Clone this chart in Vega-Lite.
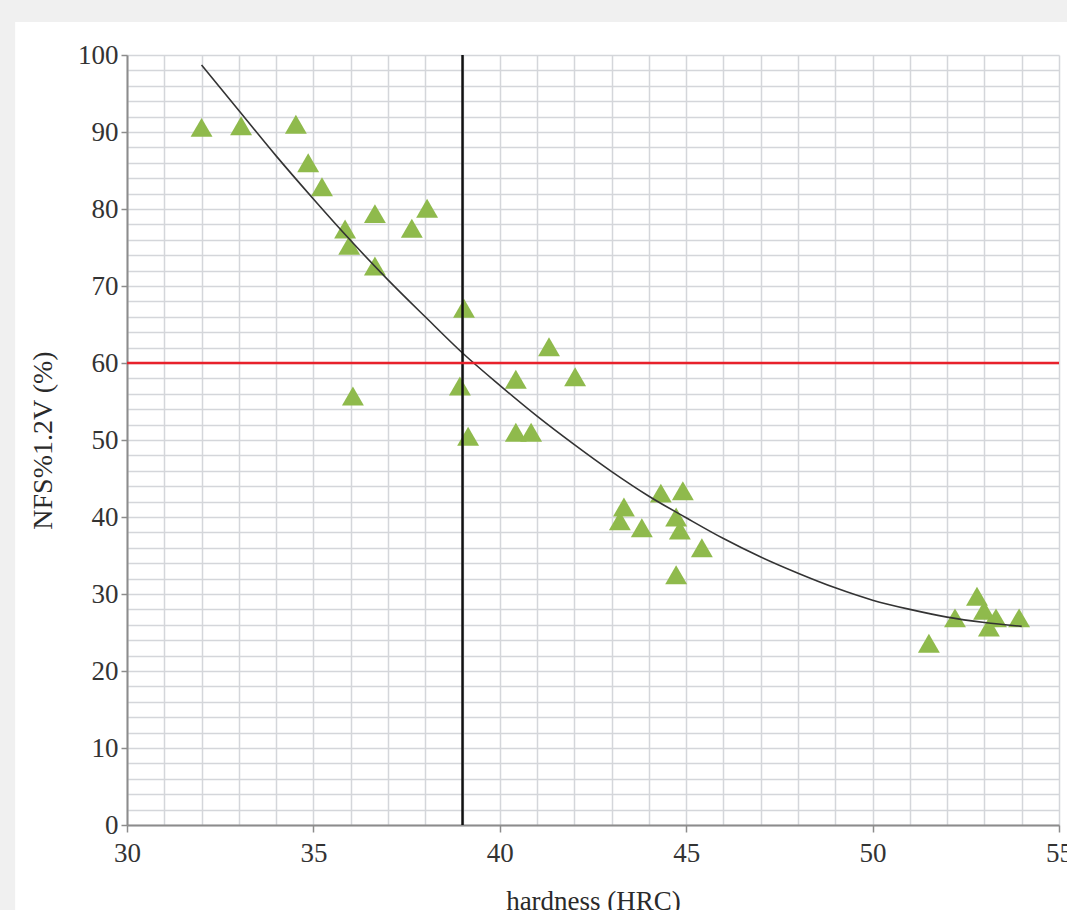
{
  "$schema": "https://vega.github.io/schema/vega-lite/v6.json",
  "autosize": {"type": "none"},
  "width": 932,
  "height": 770,
  "padding": {"left": 127, "top": 55, "right": 8, "bottom": 85},
  "background": "white",
  "config": {
    "view": {"stroke": null},
    "font": "Liberation Serif"
  },
  "datasets": {
    "pts": [
      {"h": 32.0, "n": 90.6}, {"h": 33.06, "n": 90.8}, {"h": 34.53, "n": 91.0},
      {"h": 34.86, "n": 86.0}, {"h": 35.23, "n": 82.9}, {"h": 36.65, "n": 79.4},
      {"h": 38.05, "n": 80.1}, {"h": 35.85, "n": 77.4}, {"h": 35.96, "n": 75.3},
      {"h": 36.65, "n": 72.6}, {"h": 37.64, "n": 77.5}, {"h": 36.06, "n": 55.7},
      {"h": 39.04, "n": 67.1}, {"h": 38.93, "n": 57.0}, {"h": 39.15, "n": 50.5},
      {"h": 40.43, "n": 57.9}, {"h": 40.43, "n": 51.0}, {"h": 40.84, "n": 51.0},
      {"h": 41.32, "n": 62.1}, {"h": 42.02, "n": 58.2}, {"h": 43.22, "n": 39.5},
      {"h": 43.33, "n": 41.3}, {"h": 43.81, "n": 38.6}, {"h": 44.32, "n": 43.1},
      {"h": 44.91, "n": 43.4}, {"h": 44.73, "n": 40.0}, {"h": 44.83, "n": 38.3},
      {"h": 45.42, "n": 36.0}, {"h": 44.73, "n": 32.5}, {"h": 51.51, "n": 23.6},
      {"h": 52.21, "n": 26.9}, {"h": 52.8, "n": 29.7}, {"h": 52.99, "n": 27.9},
      {"h": 53.12, "n": 25.7}, {"h": 53.31, "n": 26.9}, {"h": 53.93, "n": 26.9}
    ],
    "fit": [
      {"h": 32, "n": 98.7}, {"h": 33, "n": 92.8}, {"h": 34, "n": 86.9},
      {"h": 35, "n": 81.3}, {"h": 36, "n": 75.9}, {"h": 37, "n": 70.8},
      {"h": 38, "n": 66.0}, {"h": 39, "n": 61.3}, {"h": 40, "n": 57.1},
      {"h": 41, "n": 53.1}, {"h": 42, "n": 49.4}, {"h": 43, "n": 45.9},
      {"h": 44, "n": 42.7}, {"h": 45, "n": 39.9}, {"h": 46, "n": 37.2},
      {"h": 47, "n": 34.8}, {"h": 48, "n": 32.7}, {"h": 49, "n": 30.8},
      {"h": 50, "n": 29.2}, {"h": 51, "n": 28.0}, {"h": 52, "n": 27.0},
      {"h": 53, "n": 26.3}, {"h": 54, "n": 25.8}
    ],
    "vline": [{"h": 39}],
    "hline": [{"n": 60}]
  },
  "layer": [
    {
      "data": {"values": [{}]},
      "mark": {"type": "rect", "color": "#f0f0f0", "clip": false},
      "encoding": {
        "x": {"datum": 20.0, "type": "quantitative"},
        "x2": {"datum": 60.0},
        "y": {"datum": 104.3, "type": "quantitative"},
        "y2": {"datum": 120}
      }
    },
    {
      "data": {"values": [{}]},
      "mark": {"type": "rect", "color": "#f0f0f0", "clip": false},
      "encoding": {
        "x": {"datum": 20.0, "type": "quantitative"},
        "x2": {"datum": 27.0},
        "y": {"datum": -20, "type": "quantitative"},
        "y2": {"datum": 120}
      }
    },
    {
      "data": {"name": "pts"},
      "mark": {"type": "point", "shape": "triangle-up", "filled": true, "color": "#8fba4c", "opacity": 1, "size": 480},
      "encoding": {
        "x": {
          "field": "h", "type": "quantitative",
          "scale": {"domain": [30, 55], "nice": false, "zero": false},
          "axis": {
            "values": [30,31,32,33,34,35,36,37,38,39,40,41,42,43,44,45,46,47,48,49,50,51,52,53,54,55],
            "tickCount": 500,
            "format": "d",
            "labelExpr": "datum.value % 5 === 0 ? datum.label : ''",
            "tickOpacity": {"expr": "datum.value % 5 === 0 ? 1 : 0"},
            "title": "hardness (HRC)",
            "titleFont": "Liberation Serif", "titleFontWeight": "normal", "titleFontSize": 27, "titleColor": "#2a2a2a",
            "titlePadding": 22,
            "labelFont": "Liberation Serif", "labelFontSize": 27, "labelColor": "#333", "labelPadding": 8,
            "labelOverlap": false, "labelFlush": false,
            "grid": true, "gridColor": "#d4d6da", "gridWidth": 1.5,
            "domainColor": "#8c8c8c", "domainWidth": 2,
            "tickColor": "#8c8c8c", "tickSize": 7, "tickWidth": 1.5
          }
        },
        "y": {
          "field": "n", "type": "quantitative",
          "scale": {"domain": [0, 100], "nice": false},
          "axis": {
            "values": [0,2,4,6,8,10,12,14,16,18,20,22,24,26,28,30,32,34,36,38,40,42,44,46,48,50,52,54,56,58,60,62,64,66,68,70,72,74,76,78,80,82,84,86,88,90,92,94,96,98,100],
            "tickCount": 500,
            "format": "d",
            "labelExpr": "datum.value % 10 === 0 ? datum.label : ''",
            "tickOpacity": {"expr": "datum.value % 10 === 0 ? 1 : 0"},
            "title": "NFS%1.2V (%)",
            "titleFont": "Liberation Serif", "titleFontWeight": "normal", "titleFontSize": 28, "titleColor": "#2a2a2a",
            "titlePadding": 20,
            "labelFont": "Liberation Serif", "labelFontSize": 27, "labelColor": "#333", "labelPadding": 3,
            "labelOverlap": false, "labelFlush": false,
            "grid": true, "gridColor": "#d4d6da", "gridWidth": 1.5,
            "domainColor": "#8c8c8c", "domainWidth": 2,
            "tickColor": "#8c8c8c", "tickSize": 6, "tickWidth": 1.5
          }
        }
      }
    },
    {
      "data": {"name": "fit"},
      "mark": {"type": "line", "color": "#333333", "strokeWidth": 1.6, "interpolate": "monotone"},
      "encoding": {
        "x": {"field": "h", "type": "quantitative"},
        "y": {"field": "n", "type": "quantitative"}
      }
    },
    {
      "data": {"name": "vline"},
      "mark": {"type": "rule", "color": "#111111", "strokeWidth": 2.5},
      "encoding": {"x": {"field": "h", "type": "quantitative"}}
    },
    {
      "data": {"name": "hline"},
      "mark": {"type": "rule", "color": "#e8212b", "strokeWidth": 2.5},
      "encoding": {"y": {"field": "n", "type": "quantitative"}}
    }
  ]
}
